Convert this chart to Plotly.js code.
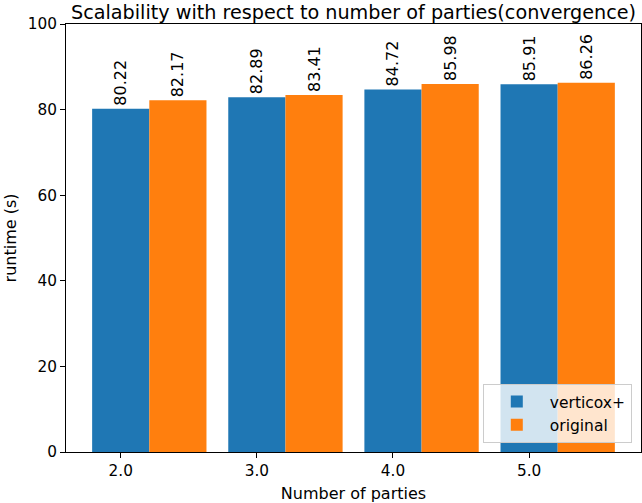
<!DOCTYPE html>
<html>
<head>
<meta charset="utf-8">
<script src="https://cdn.plot.ly/plotly-3.0.1.min.js"></script>
<style>html,body{margin:0;padding:0;background:#fff;}#chart{width:642px;height:503px;}</style>
</head>
<body>
<div id="chart"></div>
<script>
const parties = [2, 3, 4, 5];
const tickLabels = ["2.0", "3.0", "4.0", "5.0"];
const verticoxPlus = [80.22, 82.89, 84.72, 85.91];
const original = [82.17, 83.41, 85.98, 86.26];
const seriesNames = ["verticox+", "original"];

const font = "DejaVu Sans, sans-serif";
const barW = 0.42;

const traces = [
  {
    type: "bar", name: seriesNames[0], x: parties, y: verticoxPlus,
    width: barW, offset: -barW / 2,
    marker: {color: "#1f77b4", line: {width: 0}},
    text: verticoxPlus.map(v => v.toFixed(2)), textposition: "outside",
    textangle: -90, constraintext: "none", cliponaxis: false,
    textfont: {family: font, size: 16, color: "#000"},
    hoverinfo: "none"
  },
  {
    type: "bar", name: seriesNames[1], x: parties, y: original,
    width: barW, offset: barW / 2,
    marker: {color: "#ff7f0e", line: {width: 0}},
    text: original.map(v => v.toFixed(2)), textposition: "outside",
    textangle: -90, constraintext: "none", cliponaxis: false,
    textfont: {family: font, size: 16, color: "#000"},
    hoverinfo: "none"
  }
];

const layout = {
  width: 642, height: 503,
  margin: {l: 66, r: 1, t: 24, b: 51, pad: 0},
  paper_bgcolor: "#fff", plot_bgcolor: "#fff",
  font: {family: font, size: 15.5, color: "#000"},
  barmode: "overlay",
  showlegend: true,
  title: {
    text: "Scalability with respect to number of parties(convergence)",
    font: {family: font, size: 19.2, color: "#000"},
    xref: "paper", x: 0.5, xanchor: "center",
    yref: "paper", y: 1, yanchor: "bottom",
    pad: {b: 5}
  },
  xaxis: {
    range: [1.598, 5.822],
    tickvals: parties, ticktext: tickLabels,
    ticks: "outside", ticklen: 5, tickwidth: 1, tickcolor: "#000",
    showline: true, linecolor: "#000", linewidth: 1, mirror: true,
    showgrid: false, zeroline: false,
    tickfont: {family: font, size: 15.3, color: "#000"},
    title: {text: "Number of parties", font: {family: font, size: 16, color: "#000"}, standoff: 8}
  },
  yaxis: {
    range: [0, 100],
    tickvals: [0, 20, 40, 60, 80, 100],
    ticks: "outside", ticklen: 5, tickwidth: 1, tickcolor: "#000",
    showline: true, linecolor: "#000", linewidth: 1, mirror: true,
    showgrid: false, zeroline: false,
    tickfont: {family: font, size: 15.3, color: "#000"},
    title: {text: "runtime (s)", font: {family: font, size: 16, color: "#000"}, standoff: 7}
  },
  legend: {
    x: 0.984, xanchor: "right", y: 0.021, yanchor: "bottom",
    bgcolor: "rgba(255,255,255,0.8)", bordercolor: "#cccccc", borderwidth: 1,
    font: {family: font, size: 15.5, color: "#000"},
    itemwidth: 56,
    traceorder: "normal"
  }
};

Plotly.newPlot("chart", traces, layout, {staticPlot: true, displayModeBar: false});
</script>
</body>
</html>
